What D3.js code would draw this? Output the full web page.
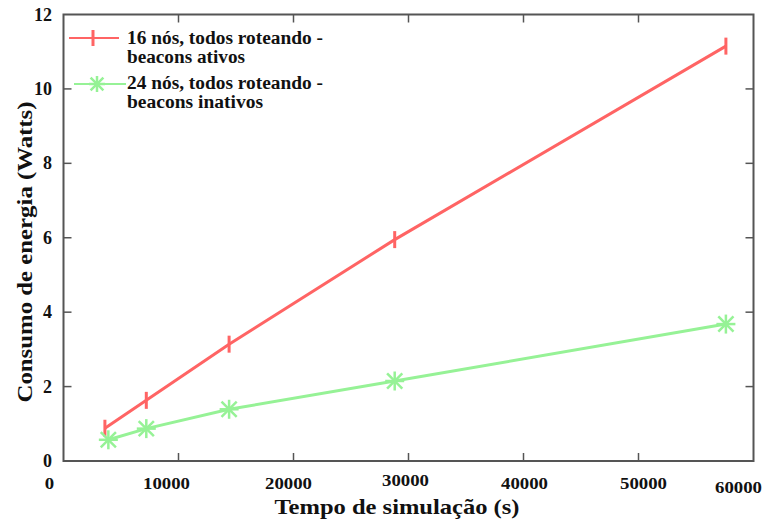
<!DOCTYPE html>
<html>
<head>
<meta charset="utf-8">
<script src="https://cdn.jsdelivr.net/npm/d3@7"></script>
<style>
  body { margin: 0; background: #fff; }
  text { font-family: "Liberation Serif", "Times New Roman", serif; font-weight: bold; fill: #111; }
</style>
</head>
<body>
<svg id="chart" width="763" height="523"></svg>
<script>
// dados
const tempoAtivos = [3600, 7200, 14400, 28800, 57600];
const energiaAtivos = [0.88, 1.63, 3.14, 5.95, 11.15];
const tempoInativos = [3900, 7200, 14400, 28800, 57600];
const energiaInativos = [0.57, 0.87, 1.39, 2.15, 3.68];
const xTicks = [0, 10000, 20000, 30000, 40000, 50000, 60000];
const yTicks = [0, 2, 4, 6, 8, 10, 12];
const legendas = [
    ['16 nós, todos roteando -', 'beacons ativos'],
    ['24 nós, todos roteando -', 'beacons inativos'],
];

// deslocamentos dos rótulos do eixo x (como no original)
const xLabelNudge = [[-14, 0], [-12, 0], [-5, 0], [-3, -3], [1, 0], [5, 0], [-15, 4]];

const svg = d3.select('#chart');
const mLeft = 63.5, mRight = 753.5, mTop = 14.5, mBottom = 461;

const x = d3.scaleLinear().domain([0, 60000]).range([mLeft, mRight]);
const y = d3.scaleLinear().domain([0, 12]).range([mBottom, mTop]);

const axisColor = '#555';
const tickLen = 8;

// moldura
svg.append('rect')
    .attr('x', mLeft).attr('y', mTop)
    .attr('width', mRight - mLeft).attr('height', mBottom - mTop)
    .attr('fill', 'none').attr('stroke', axisColor).attr('stroke-width', 2);

// marcas internas
const ticks = svg.append('g').attr('stroke', axisColor).attr('stroke-width', 1.5);
xTicks.slice(1, -1).forEach(function (t) {
    ticks.append('line').attr('x1', x(t)).attr('x2', x(t)).attr('y1', mBottom).attr('y2', mBottom - tickLen);
    ticks.append('line').attr('x1', x(t)).attr('x2', x(t)).attr('y1', mTop).attr('y2', mTop + tickLen);
});
yTicks.slice(1, -1).forEach(function (t) {
    ticks.append('line').attr('x1', mLeft).attr('x2', mLeft + tickLen).attr('y1', y(t)).attr('y2', y(t));
    ticks.append('line').attr('x1', mRight).attr('x2', mRight - tickLen).attr('y1', y(t)).attr('y2', y(t));
});

// rótulos x
svg.append('g')
    .selectAll('text')
    .data(xTicks)
    .enter()
    .append('text')
    .attr('x', (d, i) => x(d) + xLabelNudge[i][0])
    .attr('y', (d, i) => 489 + xLabelNudge[i][1])
    .attr('text-anchor', 'middle')
    .style('font-size', '17px')
    .attr('textLength', d => (String(d).length * 9.4))
    .attr('lengthAdjust', 'spacingAndGlyphs')
    .text(d => d);

// rótulos y
svg.append('g')
    .selectAll('text')
    .data(yTicks)
    .enter()
    .append('text')
    .attr('x', 52)
    .attr('y', d => y(d) + 6)
    .attr('text-anchor', 'end')
    .style('font-size', '18px')
    .text(d => d);

// títulos dos eixos
svg.append('text')
    .attr('x', 397).attr('y', 514)
    .attr('text-anchor', 'middle')
    .style('font-size', '21px')
    .attr('textLength', 245)
    .attr('lengthAdjust', 'spacingAndGlyphs')
    .text('Tempo de simulação (s)');

svg.append('text')
    .attr('transform', 'translate(32,252) rotate(-90)')
    .attr('text-anchor', 'middle')
    .style('font-size', '21px')
    .attr('textLength', 301)
    .attr('lengthAdjust', 'spacingAndGlyphs')
    .text('Consumo de energia (Watts)');

const red = '#ff6464';
const green = '#96f296';
const line = d3.line().x(d => x(d[0])).y(d => y(d[1]));

const plot = svg.append('g');

// marcador vermelho: barra vertical
function barMark(g, cx, cy, s, c) {
    g.append('line').attr('x1', cx).attr('x2', cx).attr('y1', cy - s).attr('y2', cy + s)
        .attr('stroke', c).attr('stroke-width', 3);
}
// marcador verde: asterisco
function starMark(g, cx, cy, s, c) {
    const d = s * 0.8;
    [[0, -s, 0, s], [-s, 0, s, 0], [-d, -d, d, d], [-d, d, d, -d]].forEach(function (p) {
        g.append('line')
            .attr('x1', cx + p[0]).attr('y1', cy + p[1])
            .attr('x2', cx + p[2]).attr('y2', cy + p[3])
            .attr('stroke', c).attr('stroke-width', 2.5);
    });
}

const serieAtivos = d3.zip(tempoAtivos, energiaAtivos);
const serieInativos = d3.zip(tempoInativos, energiaInativos);

plot.append('path').datum(serieAtivos)
    .attr('d', line).attr('fill', 'none').attr('stroke', red).attr('stroke-width', 3);
serieAtivos.forEach(d => barMark(plot, x(d[0]), y(d[1]), 8.5, red));

plot.append('path').datum(serieInativos)
    .attr('d', line).attr('fill', 'none').attr('stroke', green).attr('stroke-width', 3);
serieInativos.forEach(d => starMark(plot, x(d[0]), y(d[1]), 9.5, green));

// legenda
const legend = svg.append('g');
legend.append('line').attr('x1', 69).attr('x2', 119).attr('y1', 38).attr('y2', 38)
    .attr('stroke', red).attr('stroke-width', 2);
barMark(legend, 93, 38, 8, red);
legend.append('line').attr('x1', 74).attr('x2', 126).attr('y1', 84).attr('y2', 84)
    .attr('stroke', green).attr('stroke-width', 2);
starMark(legend, 97, 84, 8, green);

const legendY = [[44, 63], [89, 108]];
const legendW = [[196, 118], [196, 136]];
legendas.forEach(function (linhas, i) {
    linhas.forEach(function (t, j) {
        legend.append('text')
            .attr('x', 127)
            .attr('y', legendY[i][j])
            .style('font-size', '18px')
            .attr('textLength', legendW[i][j])
            .attr('lengthAdjust', 'spacingAndGlyphs')
            .text(t);
    });
});
</script>
</body>
</html>
